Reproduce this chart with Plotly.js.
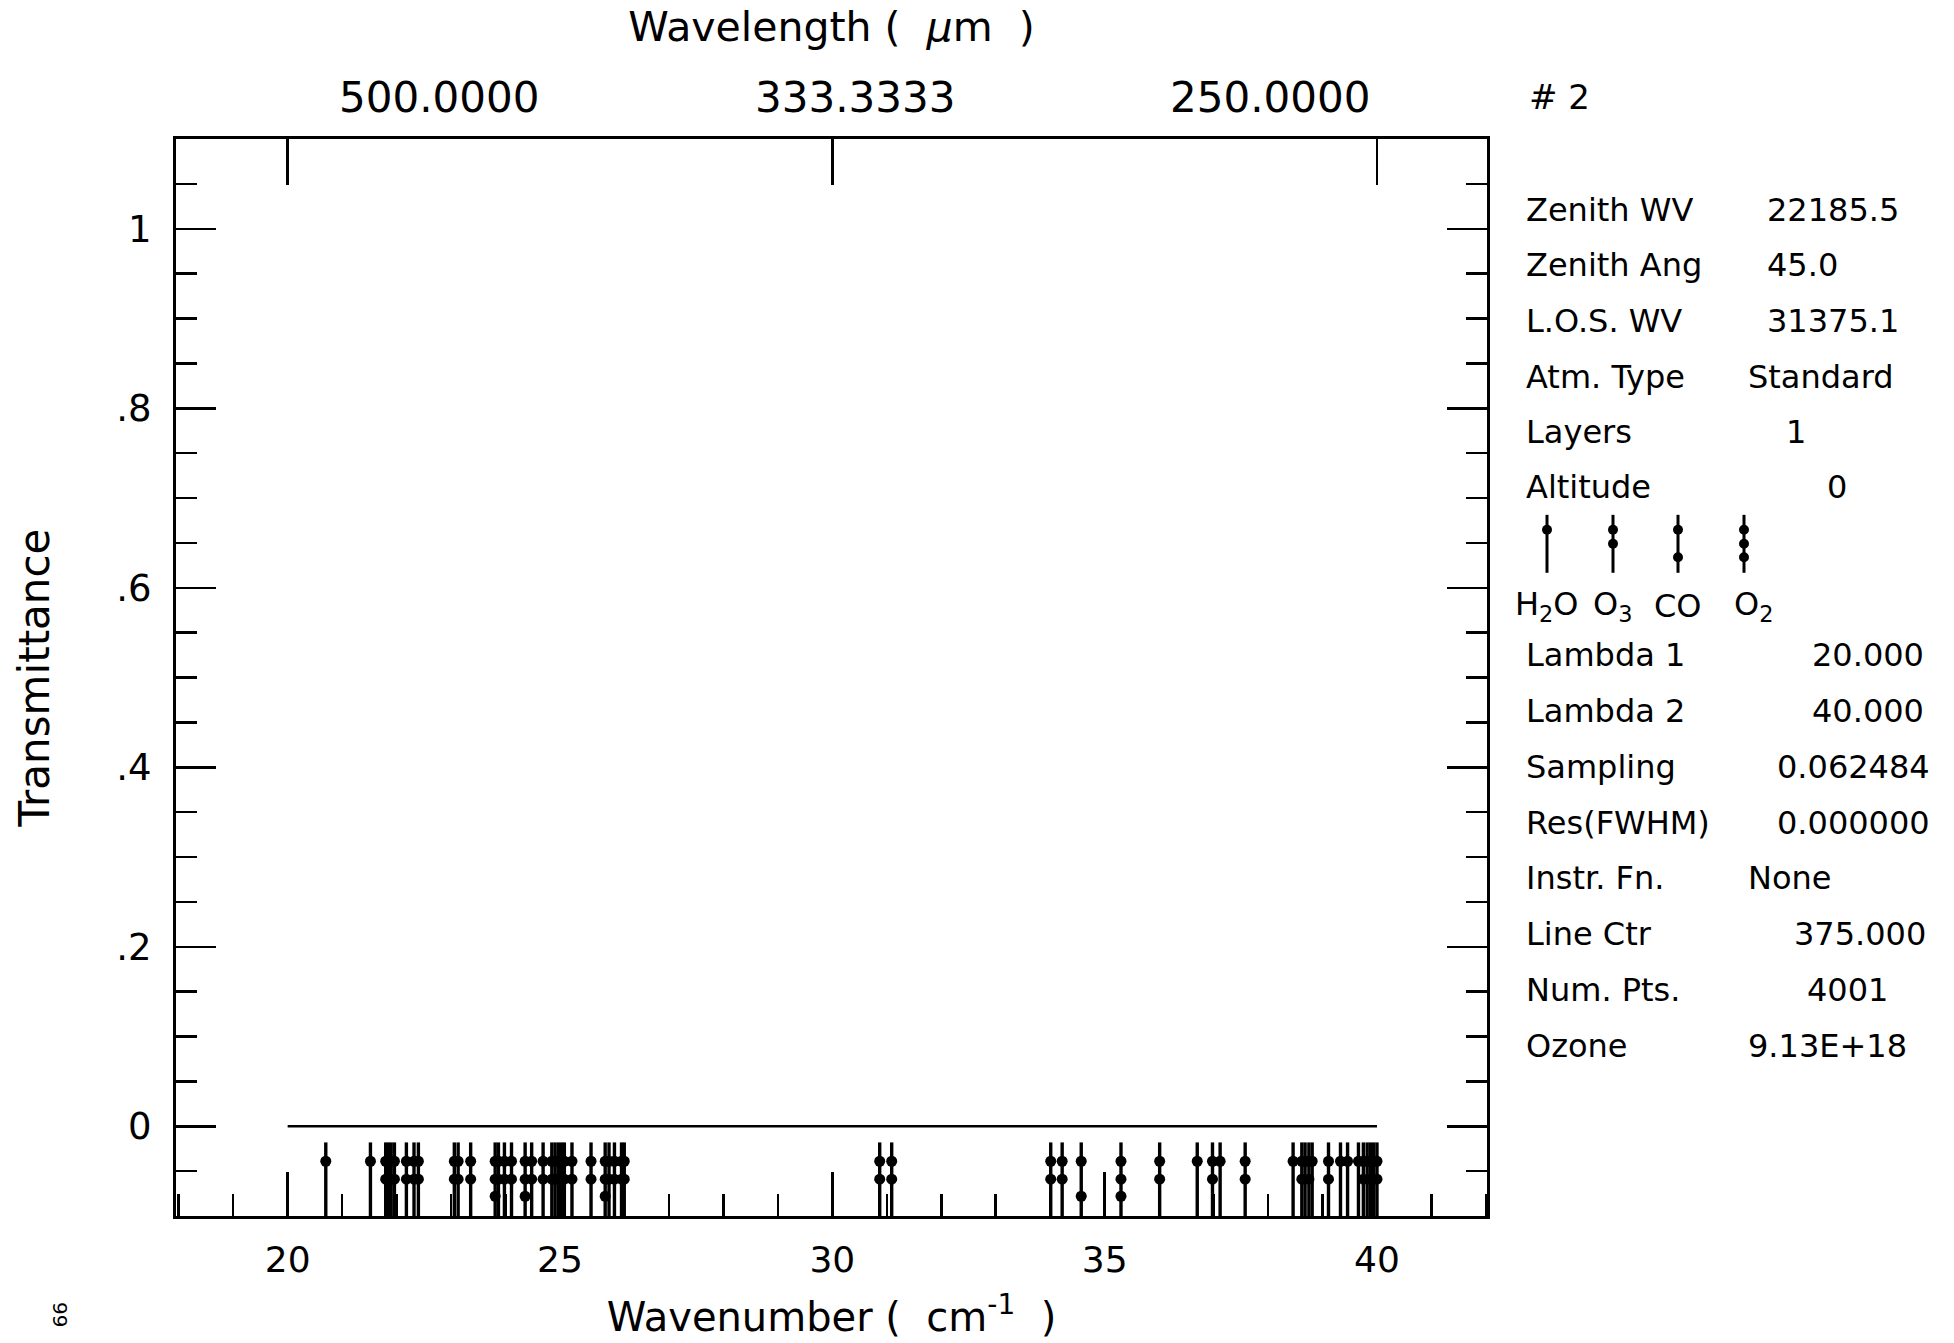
<!DOCTYPE html>
<html><head><meta charset="utf-8">
<script src="https://cdn.plot.ly/plotly-3.0.1.min.js"></script>
<style>html,body{margin:0;padding:0;background:#fff}#chart{width:1954px;height:1343px}</style>
</head><body><div id="chart"></div>
<script>
// ---------------- data ----------------
const h2oLines = [20.70, 21.52, 36.70, 37.12, 38.46, 38.68, 38.81, 39.33, 39.46, 39.66, 39.82, 39.94];
const o3Lines  = [21.80, 21.85, 21.90, 21.96, 22.18, 22.32, 22.40, 23.06, 23.13, 23.36, 23.87, 23.98,
                  24.11, 24.48, 24.69, 24.85, 24.91, 24.97, 25.03, 25.08, 25.22, 25.57, 25.90, 26.00,
                  26.13, 26.18, 30.87, 31.09, 34.01, 34.22, 36.01, 36.98, 37.58, 38.62, 38.75, 39.11,
                  39.75, 39.88, 40.00];
const coLines  = [34.57];
const o2Lines  = [23.81, 24.36, 25.83, 35.30];

const spectrumX = [20, 40];
const spectrumY = [0, 0];

const lineTop = -0.018;
const lineBase = -0.1;
const h2oDots = [-0.039];
const o3Dots  = [-0.039, -0.059];
const coDots  = [-0.039, -0.078];
const o2Dots  = [-0.039, -0.059, -0.078];

const xTickVals = [20, 25, 30, 35, 40];
const yTickVals = [0, 0.2, 0.4, 0.6, 0.8, 1];
const yTickText = ['0', '.2', '.4', '.6', '.8', '1'];
const topTickVals = [20, 30, 40];
const topTickText = ['500.0000', '333.3333', '250.0000'];

const infoLabels1 = ['Zenith WV', 'Zenith Ang', 'L.O.S. WV', 'Atm. Type', 'Layers', 'Altitude'];
const infoValues1 = ['22185.5', '45.0', '31375.1', 'Standard', '1', '0'];
const infoLabels2 = ['Lambda 1', 'Lambda 2', 'Sampling', 'Res(FWHM)', 'Instr. Fn.', 'Line Ctr', 'Num. Pts.', 'Ozone'];
const infoValues2 = ['20.000', '40.000', '0.062484', '0.000000', 'None', '375.000', '4001', '9.13E+18'];
const moleculeNames = ['H<sub>2</sub>O', 'O<sub>3</sub>', 'CO', 'O<sub>2</sub>'];
const plotNumber = '# 2';
const pageNumber = '66';

// ---------------- layout helpers ----------------
const FONT = 'DejaVu Sans';
const L = 176, R = 1487, T = 139, B = 1216.5;
const px = x => (x - L) / (R - L);
const py = y => (B - y) / (B - T);

const molecules = [
  {name: 'H2O', lines: h2oLines, dots: h2oDots},
  {name: 'O3',  lines: o3Lines,  dots: o3Dots},
  {name: 'CO',  lines: coLines,  dots: coDots},
  {name: 'O2',  lines: o2Lines,  dots: o2Dots}
];

const traces = [];
traces.push({x: spectrumX, y: spectrumY, xaxis: 'x2', yaxis: 'y', mode: 'lines',
  line: {color: 'black', width: 2.6}, hoverinfo: 'skip', showlegend: false});

molecules.forEach(m => {
  const lx = [], ly = [];
  m.lines.forEach(w => { lx.push(w, w, null); ly.push(lineBase, lineTop, null); });
  traces.push({x: lx, y: ly, mode: 'lines', line: {color: 'black', width: 3.4},
    hoverinfo: 'skip', showlegend: false, name: m.name});
  const dx = [], dy = [];
  m.lines.forEach(w => m.dots.forEach(d => { dx.push(w); dy.push(d); }));
  traces.push({x: dx, y: dy, mode: 'markers', marker: {color: 'black', size: 11, symbol: 'circle'},
    hoverinfo: 'skip', showlegend: false, name: m.name + ' dots'});
});

const annotations = [];
const shapes = [];
const txt = (text, xpx, ypx, anchor, size) => annotations.push({
  text: text, xref: 'paper', yref: 'paper', x: px(xpx), y: py(ypx),
  xanchor: anchor, yanchor: 'middle', showarrow: false,
  font: {family: FONT, size: size || 32, color: 'black'}});

// top wavelength labels
const topLabelPx = [439, 855, 1270];
topTickText.forEach((t, i) => txt(t, topLabelPx[i], 97, 'center', 42));
txt(plotNumber, 1527, 97, 'left', 34);

// info panel
const rows1 = [210, 265.5, 321.5, 377.5, 432.5, 487.5];
const val1 = [[1765, 'left'], [1765, 'left'], [1765, 'left'], [1746, 'left'], [1796, 'center'], [1837, 'center']];
infoLabels1.forEach((t, i) => { txt(t, 1524, rows1[i], 'left'); txt(infoValues1[i], val1[i][0], rows1[i], val1[i][1]); });
const rows2 = [655.5, 711.5, 767.5, 823.5, 878.5, 934.5, 990.5, 1046.5];
const val2 = [[1926, 'right'], [1926, 'right'], [1932, 'right'], [1932, 'right'], [1746, 'left'], [1928, 'right'], [1847, 'center'], [1746, 'left']];
infoLabels2.forEach((t, i) => { txt(t, 1524, rows2[i], 'left'); txt(infoValues2[i], val2[i][0], rows2[i], val2[i][1]); });

// molecule key
const keyX = [1547, 1613, 1678, 1744];
const keyTop = 515, keyBot = 573;
const labelX = [1547, 1613, 1678, 1754];
molecules.forEach((m, i) => {
  shapes.push({type: 'line', xref: 'paper', yref: 'paper', x0: px(keyX[i]), x1: px(keyX[i]),
    y0: py(keyTop), y1: py(keyBot), line: {color: 'black', width: 3}});
  m.dots.forEach(d => {
    const yy = keyTop + (lineTop - d) / (lineTop - lineBase) * (keyBot - keyTop);
    shapes.push({type: 'circle', xref: 'paper', yref: 'paper', fillcolor: 'black',
      line: {color: 'black', width: 0},
      x0: px(keyX[i] - 5), x1: px(keyX[i] + 5), y0: py(yy + 5), y1: py(yy - 5)});
  });
  txt(moleculeNames[i], labelX[i], 606, 'center');
});

// page number
annotations.push({text: pageNumber, xref: 'paper', yref: 'paper', x: px(60), y: py(1315),
  xanchor: 'center', yanchor: 'middle', showarrow: false, textangle: -90,
  font: {family: FONT, size: 20, color: 'black'}});

const axisCommon = {showgrid: false, zeroline: false, showline: true, linecolor: 'black', linewidth: 3,
  ticks: 'inside', tickcolor: 'black', tickwidth: 2.5, color: 'black'};

const layout = {
  width: 1954, height: 1343,
  margin: {l: L, r: 1954 - R, t: T, b: 1343 - B, pad: 0},
  paper_bgcolor: 'white', plot_bgcolor: 'white',
  font: {family: FONT, color: 'black'},
  showlegend: false,
  xaxis: Object.assign({}, axisCommon, {
    range: [17.95, 42.02], tickmode: 'array', tickvals: xTickVals, ticklen: 44,
    ticklabelstandoff: 10,
    tickfont: {family: FONT, size: 36, color: 'black'},
    minor: {ticks: 'inside', dtick: 1, tick0: 0, ticklen: 22, tickwidth: 2.5, tickcolor: 'black'},
    mirror: false,
    title: {text: 'Wavenumber (  cm<sup>-1</sup>  )', font: {family: FONT, size: 40, color: 'black'}, standoff: 24}
  }),
  xaxis2: Object.assign({}, axisCommon, {
    overlaying: 'x', side: 'top', anchor: 'y',
    range: [17.95, 42.02], tickmode: 'array', tickvals: topTickVals, ticklen: 46,
    showticklabels: false,
    title: {text: 'Wavelength (  <i>μ</i>m  )', font: {family: FONT, size: 41, color: 'black'}, standoff: 82}
  }),
  yaxis: Object.assign({}, axisCommon, {
    range: [-0.1, 1.1], tickmode: 'array', tickvals: yTickVals, ticktext: yTickText, ticklen: 40,
    mirror: 'ticks', ticklabelstandoff: 14,
    tickfont: {family: FONT, size: 37, color: 'black'},
    minor: {ticks: 'inside', dtick: 0.05, tick0: 0, ticklen: 21, tickwidth: 2.5, tickcolor: 'black'},
    title: {text: 'Transmittance', font: {family: FONT, size: 42, color: 'black'}, standoff: 54}
  }),
  annotations: annotations,
  shapes: shapes
};

Plotly.newPlot('chart', traces, layout, {staticPlot: true, displayModeBar: false});
</script>
</body></html>
